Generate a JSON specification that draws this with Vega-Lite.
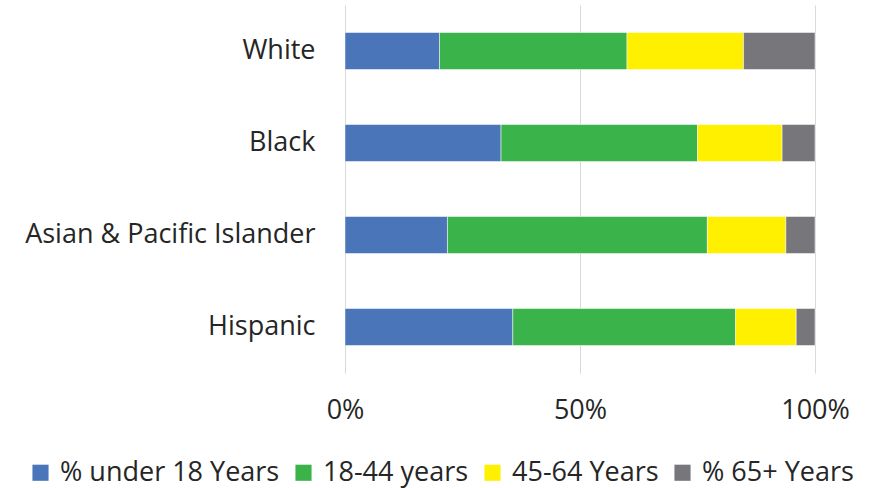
{
  "$schema": "https://vega.github.io/schema/vega-lite/v6.json",
  "width": 470,
  "height": 368,
  "autosize": {"type": "none"},
  "padding": {"left": 345, "top": 5, "right": 55, "bottom": 115},
  "background": "white",
  "config": {
    "view": {"stroke": null},
    "font": "Open Sans",
    "axis": {"labelFont": "Open Sans", "labelColor": "#262626"},
    "legend": {"labelFont": "Open Sans", "labelColor": "#262626"}
  },
  "data": {
    "values": [
      {"group": "White", "age": "% under 18 Years", "k": 1, "pct": 20.1},
      {"group": "White", "age": "18-44 years", "k": 2, "pct": 39.9},
      {"group": "White", "age": "45-64 Years", "k": 3, "pct": 24.8},
      {"group": "White", "age": "% 65+ Years", "k": 4, "pct": 15.2},
      {"group": "Black", "age": "% under 18 Years", "k": 1, "pct": 33.2},
      {"group": "Black", "age": "18-44 years", "k": 2, "pct": 41.8},
      {"group": "Black", "age": "45-64 Years", "k": 3, "pct": 18.0},
      {"group": "Black", "age": "% 65+ Years", "k": 4, "pct": 7.0},
      {"group": "Asian & Pacific Islander", "age": "% under 18 Years", "k": 1, "pct": 21.8},
      {"group": "Asian & Pacific Islander", "age": "18-44 years", "k": 2, "pct": 55.3},
      {"group": "Asian & Pacific Islander", "age": "45-64 Years", "k": 3, "pct": 16.7},
      {"group": "Asian & Pacific Islander", "age": "% 65+ Years", "k": 4, "pct": 6.2},
      {"group": "Hispanic", "age": "% under 18 Years", "k": 1, "pct": 35.7},
      {"group": "Hispanic", "age": "18-44 years", "k": 2, "pct": 47.4},
      {"group": "Hispanic", "age": "45-64 Years", "k": 3, "pct": 12.9},
      {"group": "Hispanic", "age": "% 65+ Years", "k": 4, "pct": 4.0}
    ]
  },
  "mark": {"type": "bar", "size": 37, "stroke": "white", "strokeWidth": 0.5},
  "encoding": {
    "y": {
      "field": "group",
      "type": "nominal",
      "sort": null,
      "scale": {"paddingInner": 0, "paddingOuter": 0},
      "axis": {
        "title": null,
        "domain": false,
        "ticks": false,
        "grid": false,
        "labelFontSize": 27,
        "labelPadding": 30,
        "labelLimit": 400
      }
    },
    "x": {
      "field": "pct",
      "type": "quantitative",
      "stack": "normalize",
      "scale": {"domain": [0, 1], "nice": false},
      "axis": {
        "title": null,
        "values": [0, 0.5, 1],
        "format": ".0%",
        "domain": false,
        "ticks": false,
        "grid": true,
        "gridColor": "#d9d9d9",
        "gridWidth": 1,
        "labelFontSize": 27,
        "labelPadding": 24,
        "labelFlush": false
      }
    },
    "color": {
      "field": "age",
      "type": "nominal",
      "sort": ["% under 18 Years", "18-44 years", "45-64 Years", "% 65+ Years"],
      "scale": {
        "domain": ["% under 18 Years", "18-44 years", "45-64 Years", "% 65+ Years"],
        "range": ["#4a75b8", "#3bb34b", "#fff000", "#77777b"]
      },
      "legend": {
        "title": null,
        "orient": "none",
        "direction": "horizontal",
        "columns": 4,
        "legendX": -318,
        "legendY": 454,
        "symbolType": "square",
        "symbolSize": 260,
        "symbolStrokeWidth": 0,
        "symbolOpacity": 1,
        "labelFontSize": 27,
        "labelOffset": 6,
        "columnPadding": 10,
        "labelLimit": 400
      }
    },
    "order": {"field": "k", "type": "quantitative"}
  }
}
